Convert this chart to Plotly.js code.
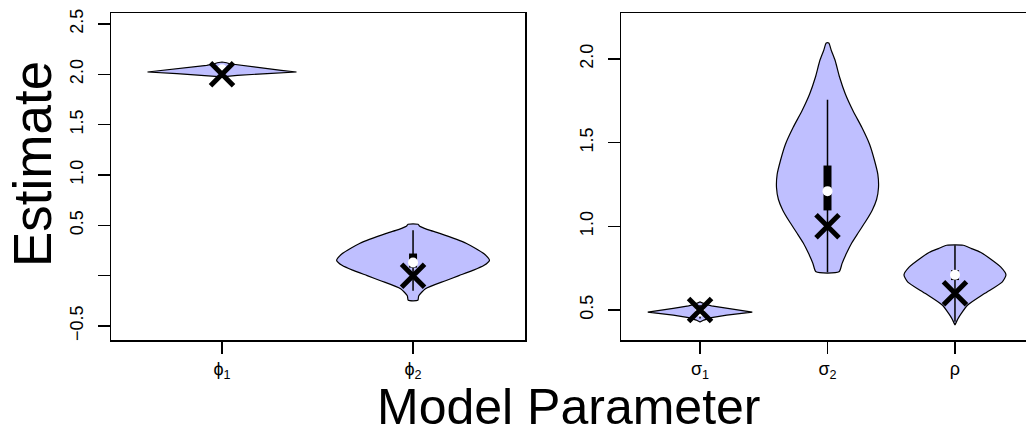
<!DOCTYPE html>
<html><head><meta charset="utf-8">
<script src="https://cdn.plot.ly/plotly-3.0.1.min.js"></script>
<style>html,body{margin:0;padding:0;overflow:hidden;background:#fff}</style>
</head><body><div id="chart" style="width:1040px;height:435px"></div>
<script>
// ---- data ----
const leftCategories = ['ϕ<sub>1</sub>', 'ϕ<sub>2</sub>'];
const rightCategories = ['σ<sub>1</sub>', 'σ<sub>2</sub>', 'ρ'];
const leftPositions = [1, 2];
const rightPositions = [1, 2, 3];

// violin outlines: estimate levels and half-widths
const phi1Y = [1.975, 1.99, 2.007, 2.023, 2.04, 2.057, 2.075, 2.089, 2.105, 2.115, 2.122];
const phi1W = [0.0, 0.08, 0.236, 0.39, 0.31, 0.236, 0.14, 0.08, 0.04, 0.024, 0.0];
const phi2Y = [-0.245, -0.2, -0.13, -0.05, 0.0, 0.05, 0.10, 0.152, 0.22, 0.32, 0.42, 0.45, 0.47, 0.49, 0.51];
const phi2W = [0.025, 0.03, 0.065, 0.17, 0.24, 0.31, 0.37, 0.40, 0.37, 0.28, 0.14, 0.09, 0.06, 0.035, 0.026];
const sigma1Y = [0.428, 0.44, 0.455, 0.47, 0.487, 0.51, 0.525, 0.535, 0.548];
const sigma1W = [0.0, 0.03, 0.09, 0.21, 0.41, 0.21, 0.09, 0.04, 0.0];
const sigma2Y = [0.728, 0.78, 0.84, 0.90, 0.96, 1.03, 1.095, 1.16, 1.23, 1.31, 1.39, 1.49, 1.59, 1.69, 1.79, 1.89, 1.99, 2.05, 2.095];
const sigma2W = [0.09, 0.115, 0.15, 0.19, 0.24, 0.30, 0.35, 0.385, 0.40, 0.395, 0.37, 0.33, 0.27, 0.2, 0.14, 0.095, 0.06, 0.03, 0.01];
const rhoY = [0.41, 0.45, 0.48, 0.53, 0.6, 0.667, 0.71, 0.756, 0.815, 0.845, 0.867, 0.887];
const rhoW = [0.0, 0.025, 0.05, 0.1, 0.235, 0.37, 0.40, 0.36, 0.26, 0.2, 0.13, 0.065];

// box-plot summaries and true values
const leftTruth = [2.0, 0.0];
const leftMedian = [2.05, 0.13];
const leftQ1 = [2.02, 0.08];
const leftQ3 = [2.06, 0.22];
const leftLo = [1.99, -0.15];
const leftHi = [2.09, 0.45];
const rightTruth = [0.5, 1.0, 0.6];
const rightMedian = [0.49, 1.21, 0.71];
const rightQ1 = [0.475, 1.095, 0.679];
const rightQ3 = [0.505, 1.363, 0.738];
const rightLo = [0.45, 0.725, 0.43];
const rightHi = [0.53, 1.756, 0.887];

const leftYTicks = [-0.5, 0, 0.5, 1.0, 1.5, 2.0, 2.5];
const leftYText = ['−0.5', '', '0.5', '1.0', '1.5', '2.0', '2.5'];
const rightYTicks = [0.5, 1.0, 1.5, 2.0];
const rightYText = ['0.5', '1.0', '1.5', '2.0'];

// ---- build traces ----
const FILL = 'rgb(191,191,255)';
function violin(pos, ys, ws, xa, ya, smooth) {
  const x = [], y = [];
  for (let i = 0; i < ys.length; i++) { x.push(pos + ws[i]); y.push(ys[i]); }
  for (let i = ys.length - 1; i >= 0; i--) { x.push(pos - ws[i]); y.push(ys[i]); }
  x.push(x[0]); y.push(y[0]);
  return {type: 'scatter', mode: 'lines', x, y, xaxis: xa, yaxis: ya, fill: 'toself',
    fillcolor: FILL, line: {color: 'black', width: 1.2, shape: smooth ? 'spline' : 'linear', smoothing: 0.6},
    hoverinfo: 'skip', showlegend: false};
}
function segs(pos, lo, hi) {
  const x = [], y = [];
  pos.forEach((p, i) => { x.push(p, p, null); y.push(lo[i], hi[i], null); });
  return {x, y};
}
function boxTraces(pos, lo, hi, q1, q3, med, truth, xa, ya) {
  const w = segs(pos, lo, hi), b = segs(pos, q1, q3);
  return [
    {type: 'scatter', mode: 'lines', x: w.x, y: w.y, xaxis: xa, yaxis: ya, line: {color: 'black', width: 1.5}, showlegend: false},
    {type: 'scatter', mode: 'lines', x: b.x, y: b.y, xaxis: xa, yaxis: ya, line: {color: 'black', width: 8}, showlegend: false},
    {type: 'scatter', mode: 'markers', x: pos, y: med, xaxis: xa, yaxis: ya, marker: {symbol: 'circle', color: 'white', size: 10}, showlegend: false},
    {type: 'scatter', mode: 'markers', x: pos, y: truth, xaxis: xa, yaxis: ya,
      marker: {symbol: 'x-thin-open', size: 23, color: 'black', line: {color: 'black', width: 5}}, showlegend: false}
  ];
}

const traces = [
  violin(1, phi1Y, phi1W, 'x', 'y', false),
  violin(2, phi2Y, phi2W, 'x', 'y', true),
  violin(1, sigma1Y, sigma1W, 'x2', 'y2', false),
  violin(2, sigma2Y, sigma2W, 'x2', 'y2', true),
  violin(3, rhoY, rhoW, 'x2', 'y2', true),
  ...boxTraces(leftPositions, leftLo, leftHi, leftQ1, leftQ3, leftMedian, leftTruth, 'x', 'y'),
  ...boxTraces(rightPositions, rightLo, rightHi, rightQ1, rightQ3, rightMedian, rightTruth, 'x2', 'y2')
];

const W = 1040, H = 435;
const FONT = 'Liberation Sans, Arial, sans-serif';
const axBase = {showline: true, mirror: true, linecolor: 'black', linewidth: 1.5, showgrid: false, zeroline: false,
  ticks: 'outside', ticklen: 12, tickwidth: 1.5, tickcolor: 'black', tickfont: {family: FONT, size: 18, color: 'black'}};
const yDomain = [1 - 340 / H, 1 - 13 / H];

const layout = {
  width: W, height: H, margin: {l: 0, r: 0, t: 0, b: 0},
  paper_bgcolor: 'white', plot_bgcolor: 'white', showlegend: false,
  font: {family: FONT, color: 'black'},
  xaxis: Object.assign({}, axBase, {domain: [111 / W, 525 / W], range: [0.419, 2.586], tickvals: leftPositions, ticktext: leftCategories, anchor: 'y', ticklabelstandoff: 0}),
  yaxis: Object.assign({}, axBase, {domain: yDomain, range: [-0.639, 2.609], tickvals: leftYTicks, ticktext: leftYText, tickangle: -90, anchor: 'x', ticklabelstandoff: 7}),
  xaxis2: Object.assign({}, axBase, {domain: [621 / W, 1034 / W], range: [0.38, 3.62], tickvals: rightPositions, ticktext: rightCategories, anchor: 'y2', ticklabelstandoff: 0}),
  yaxis2: Object.assign({}, axBase, {domain: yDomain, range: [0.321, 2.274], tickvals: rightYTicks, ticktext: rightYText, tickangle: -90, anchor: 'x2', ticklabelstandoff: 7}),
  annotations: [
    {text: 'Estimate', xref: 'paper', yref: 'paper', x: 33 / W, y: 1 - 164 / H, xanchor: 'center', yanchor: 'middle',
      textangle: -90, showarrow: false, font: {size: 53, color: 'black'}},
    {text: 'Model Parameter', xref: 'paper', yref: 'paper', x: 569 / W, y: 1 - 407 / H, xanchor: 'center', yanchor: 'middle',
      showarrow: false, font: {size: 50, color: 'black'}}
  ]
};

Plotly.newPlot('chart', traces, layout, {displayModeBar: false, staticPlot: true});
</script></body></html>
